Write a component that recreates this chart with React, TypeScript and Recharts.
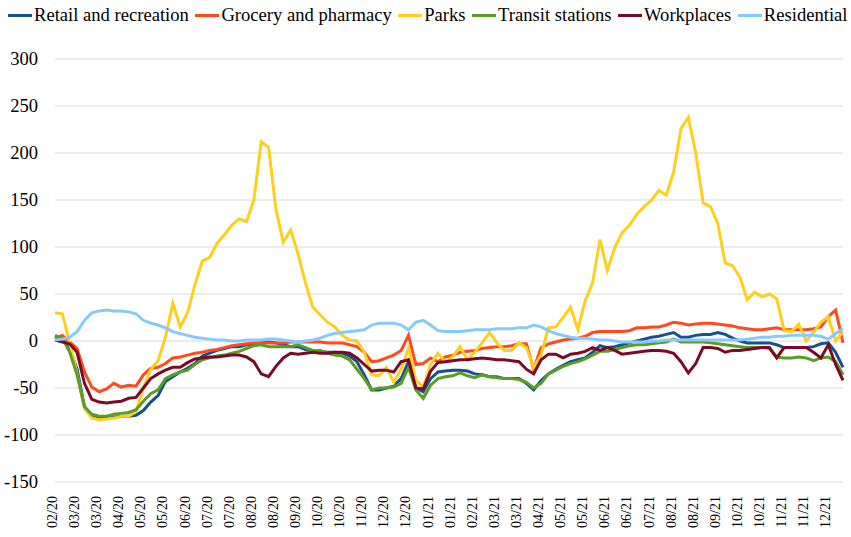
import { LineChart, Line, XAxis, YAxis, CartesianGrid } from "recharts";

// tick labels on the category axis, one every 3 points
const tickLabels = [
  "02/20", "03/20", "03/20", "04/20", "05/20", "05/20", "06/20", "07/20", "07/20",
  "08/20", "08/20", "09/20", "10/20", "10/20", "11/20", "12/20", "12/20", "01/21",
  "01/21", "02/21", "03/21", "03/21", "04/21", "05/21", "05/21", "06/21", "06/21",
  "07/21", "08/21", "08/21", "09/21", "10/21", "10/21", "11/21", "11/21", "12/21",
];

const yTicks = [-150, -100, -50, 0, 50, 100, 150, 200, 250, 300];

const retail = [
  4, 2, -8, -30, -70, -79, -81, -82, -81, -80, -80, -79,
  -74, -65, -58, -43, -38, -33, -29, -24, -16, -13, -10, -8,
  -6, -6, -4, -3, -2, -1, -2, -4, -6, -6, -9, -10,
  -11, -12, -12, -13, -16, -22, -36, -52, -52, -50, -48, -40,
  -22, -50, -54, -40, -33, -32, -31, -31, -32, -35, -36, -38,
  -38, -40, -40, -40, -45, -52, -42, -35, -30, -26, -22, -20,
  -18, -12, -5, -7, -6, -4, -2, 0, 2, 4, 5, 7,
  9, 4, 4, 6, 7, 7, 9, 7, 3, 0, -2, -2,
  -2, -2, -4, -7, -7, -7, -7, -6, -3, -2, -12, -28,
];

const grocery = [
  3, 6, -1, -8, -33, -49, -54, -51, -45, -49, -47, -48,
  -36, -29, -28, -24, -18, -17, -15, -13, -12, -10, -9, -7,
  -5, -4, -3, -2, -2, -2, -2, -2, -1, -1, -1, -1,
  -1, -2, -2, -2, -4, -6, -12, -22, -21, -18, -15, -10,
  6, -25, -24, -18, -22, -17, -15, -12, -11, -10, -8, -7,
  -6, -6, -5, -3, -3, -30, -7, -3, -1, 1, 2, 3,
  5, 9, 10, 10, 10, 10, 11, 14, 14, 15, 15, 17,
  20, 19, 17, 18, 19, 19, 18, 17, 16, 14, 13, 12,
  12, 13, 14, 12, 12, 12, 12, 13, 15, 26, 33, -2,
];

const parks = [
  30, 29, -2, -35, -72, -82, -84, -83, -82, -80, -80, -75,
  -50, -30, -21, 4, 40, 15, 30, 60, 85, 89, 104, 113,
  123, 130, 127, 150, 212, 206, 140, 105, 118, 93, 62, 36,
  28, 20, 15, 6, 1, 0, -12, -36, -37, -28, -44, -30,
  -8, -42, -49, -25, -13, -22, -17, -6, -20, -12, -2, 9,
  -2, -10, -10, -2, -7, -28, -15, 14, 15, 25, 36, 12,
  43, 62, 108, 75, 99, 115, 123, 135, 143, 150, 160, 155,
  180, 226, 238, 200, 147, 143, 125, 83, 80, 68, 44, 52,
  47, 50, 45, 11, 10, 18, 0, 9, 20, 26, 0, 10,
];

const transit = [
  6, 3, -12, -36, -70, -78, -80, -80, -78, -77, -76, -73,
  -64, -56, -52, -40, -36, -33, -31, -25, -20, -18, -16, -15,
  -13, -11, -8, -5, -4, -6, -6, -6, -6, -4, -7, -10,
  -10, -13, -15, -16, -20, -30, -40, -52, -50, -50, -49, -45,
  -28, -52, -61, -47, -40, -38, -37, -34, -37, -39, -36, -38,
  -39, -40, -40, -41, -44, -50, -45, -35, -31, -27, -24, -22,
  -19, -15, -11, -11, -9, -7, -5, -4, -4, -3, -2, -1,
  2, -1, -1, -1, -1, -2, -3, -4, -5, -6, -7, -7,
  -7, -8, -17, -18, -18, -17, -18, -21, -18, -17, -22, -36,
];

const workplaces = [
  1, -1, -3, -12, -45, -62, -65, -66, -65, -64, -61, -60,
  -50, -40, -35, -31, -28, -28, -23, -19, -18, -17, -17, -16,
  -15, -15, -17, -22, -35, -38, -27, -18, -13, -14, -13, -12,
  -13, -13, -12, -12, -13, -18, -25, -32, -31, -31, -33, -22,
  -20, -50, -51, -32, -23, -22, -21, -20, -20, -19, -18, -19,
  -20, -20, -21, -22, -30, -35, -20, -14, -14, -18, -14, -13,
  -11, -7, -10, -7, -10, -14, -13, -12, -11, -10, -10, -11,
  -13, -22, -34, -24, -7, -7, -8, -12, -10, -10, -9, -8,
  -7, -7, -18, -7, -7, -7, -7, -12, -18, -4, -25, -42,
];

const residential = [
  1, 2, 4, 10, 22, 30, 32, 33, 32, 32, 31, 29,
  22, 19, 17, 14, 10, 8, 6, 4, 3, 2, 1, 1,
  0, 0, 1, 1, 1, 2, 2, 1, 0, -1, 0, 1,
  3, 6, 8, 9, 10, 11, 12, 17, 19, 19, 19, 17,
  12, 20, 22, 17, 11, 10, 10, 10, 11, 12, 12, 12,
  13, 13, 13, 14, 14, 17, 15, 11, 8, 6, 4, 3,
  3, 2, 1, 1, 0, -1, -1, -1, -1, 0, 0, 1,
  1, 1, 1, 1, 1, 1, 1, 1, 1, 1, 2, 3,
  4, 4, 5, 5, 6, 6, 6, 6, 5, 2, 8, 13,
];

const series = [
  { key: "retail", name: "Retail and recreation", color: "#17508c" },
  { key: "grocery", name: "Grocery and pharmacy", color: "#ff4b1c" },
  { key: "parks", name: "Parks", color: "#ffcf1f" },
  { key: "transit", name: "Transit stations", color: "#5a9c25" },
  { key: "workplaces", name: "Workplaces", color: "#7b0a27" },
  { key: "residential", name: "Residential", color: "#86c9ff" },
];

const rows = retail.map((_, i) => ({
  i,
  retail: retail[i],
  grocery: grocery[i],
  parks: parks[i],
  transit: transit[i],
  workplaces: workplaces[i],
  residential: residential[i],
}));

const FONT = "'Liberation Serif', 'Times New Roman', serif";

function XTick(props: any) {
  const { x, y, payload } = props;
  const label = tickLabels[Math.round(payload.value / 3)] ?? "";
  const tx = x + 2;
  const ty = y + 6;
  return (
    <text
      x={tx}
      y={ty}
      transform={`rotate(-90, ${tx}, ${ty})`}
      textAnchor="end"
      fontFamily={FONT}
      fontSize={14}
      fill="#000"
    >
      {label}
    </text>
  );
}

function YTick(props: any) {
  const { x, y, payload } = props;
  return (
    <text
      x={x - 9}
      y={y}
      dy="0.35em"
      textAnchor="end"
      fontFamily={FONT}
      fontSize={18.5}
      fill="#000"
    >
      {payload.value}
    </text>
  );
}

export default function App() {
  return (
    <div
      style={{
        position: "absolute",
        left: 0,
        top: 0,
        width: 851,
        height: 537,
        background: "#fff",
        fontFamily: FONT,
      }}
    >
      <div
        style={{
          position: "absolute",
          left: 8,
          top: 5,
          display: "flex",
          alignItems: "center",
          fontSize: 18.6,
          lineHeight: "20px",
          whiteSpace: "nowrap",
          color: "#000",
        }}
      >
        {series.map((s) => (
          <span
            key={s.key}
            style={{ display: "flex", alignItems: "center", marginRight: 6.5 }}
          >
            <span
              style={{
                display: "inline-block",
                width: 24,
                height: 3,
                background: s.color,
                marginRight: 2,
              }}
            />
            {s.name}
          </span>
        ))}
      </div>
      <LineChart
        width={851}
        height={537}
        data={rows}
        margin={{ top: 59, right: 8, bottom: 0, left: 0 }}
      >
        <CartesianGrid vertical={false} stroke="#d9d9d9" />
        <XAxis
          dataKey="i"
          interval={2}
          height={55}
          axisLine={false}
          tickLine={false}
          tick={<XTick />}
        />
        <YAxis
          domain={[-150, 300]}
          ticks={yTicks}
          width={55}
          axisLine={false}
          tickLine={false}
          tick={<YTick />}
        />
        {series.map((s) => (
          <Line
            key={s.key}
            type="linear"
            dataKey={s.key}
            name={s.name}
            stroke={s.color}
            strokeWidth={3}
            dot={false}
            isAnimationActive={false}
          />
        ))}
      </LineChart>
    </div>
  );
}
